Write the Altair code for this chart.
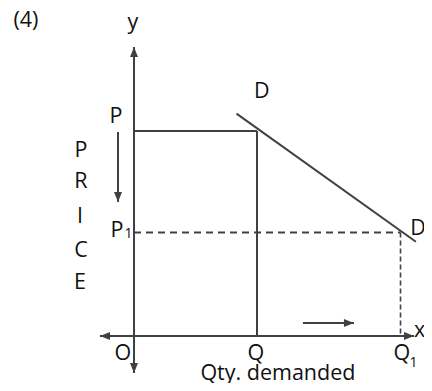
import altair as alt
import pandas as pd

# ---------------- data (chart units, origin O at 0,0) ----------------
Q, Q1 = 6.0, 13.0          # quantities demanded
P, P1 = 10.0, 5.05         # prices
demand_x = [5.0, 13.75]    # ends of demand curve DD
demand_y = [10.85, 4.6]
yaxis_ends = [-1.8, 14.1]
xaxis_ends = [-1.66, 13.66]
price_arrow_x = -0.78
price_arrow_y = [9.95, 6.54]
qty_arrow_y = 0.63
qty_arrow_x = [8.24, 10.73]

label_text = ["(4)", "y", "P", "P", "R", "I", "C", "E", "P", "D", "D", "x",
              "Q", "Q", "O", "Qty. demanded"]
label_x = [-5.27, -0.05, -0.88, -2.59, -2.59, -2.63, -2.59, -2.63, -0.83,
           6.24, 13.85, 13.93, 5.95, 13.07, -0.54, 7.02]
label_y = [15.07, 14.98, 10.39, 8.73, 7.22, 5.51, 3.85, 2.29, 4.83,
           11.61, 4.93, -0.05, -1.15, -1.15, -1.15, -2.15]
sub_text = ["1", "1"]
sub_x = [-0.27, 13.63]
sub_y = [4.78, -1.5]

# ---------------- scale geometry ----------------
UNIT = 20.5           # pixels per chart unit
W, H = 416, 375
X0_PX, Y0_PX = 126, 328   # origin position inside the plot area
xdom = [-X0_PX / UNIT, (W - X0_PX) / UNIT]
ydom = [-(H - Y0_PX) / UNIT, Y0_PX / UNIT]
xs = alt.Scale(domain=xdom, nice=False, zero=False)
ys = alt.Scale(domain=ydom, nice=False, zero=False)

INK = "#404040"

solid = pd.DataFrame([
    dict(x=xaxis_ends[0], x2=xaxis_ends[1], y=0, y2=0),
    dict(x=0, x2=0, y=yaxis_ends[0], y2=yaxis_ends[1]),
    dict(x=0, x2=Q, y=P, y2=P),
    dict(x=Q, x2=Q, y=P, y2=0),
    dict(x=demand_x[0], x2=demand_x[1], y=demand_y[0], y2=demand_y[1]),
    dict(x=price_arrow_x, x2=price_arrow_x, y=price_arrow_y[0], y2=price_arrow_y[1]),
    dict(x=qty_arrow_x[0], x2=qty_arrow_x[1], y=qty_arrow_y, y2=qty_arrow_y),
])
dash_h = pd.DataFrame([dict(x=0, x2=Q1, y=P1, y2=P1)])
dash_v = pd.DataFrame([dict(x=Q1, x2=Q1, y=P1, y2=0)])

heads = pd.DataFrame([
    dict(x=0, y=yaxis_ends[1], a=0),
    dict(x=0, y=yaxis_ends[0], a=180),
    dict(x=xaxis_ends[0], y=0, a=270),
    dict(x=xaxis_ends[1], y=0, a=90),
    dict(x=price_arrow_x, y=price_arrow_y[1], a=180),
    dict(x=qty_arrow_x[1], y=qty_arrow_y, a=90),
])

labels = pd.DataFrame(dict(t=label_text, x=label_x, y=label_y))
subs = pd.DataFrame(dict(t=sub_text, x=sub_x, y=sub_y))

def rule(df, **kw):
    return alt.Chart(df).mark_rule(color=INK, **kw).encode(
        x=alt.X("x:Q", scale=xs, axis=None),
        x2="x2:Q",
        y=alt.Y("y:Q", scale=ys, axis=None),
        y2="y2:Q",
    )

solid_l = rule(solid, strokeWidth=2)
dash_h_l = rule(dash_h, strokeWidth=2, strokeDash=[7, 5])
dash_v_l = rule(dash_v, strokeWidth=1.6, strokeDash=[5, 3])

head_l = alt.Chart(heads).mark_point(
    shape="M0,0L-1,2.5L1,2.5Z", filled=True, size=64, color=INK, opacity=1
).encode(
    x=alt.X("x:Q", scale=xs, axis=None),
    y=alt.Y("y:Q", scale=ys, axis=None),
    angle=alt.Angle("a:Q", scale=None),
)

FONT = "Open Sans"
text_l = alt.Chart(labels).mark_text(
    font=FONT, fontSize=21.5, color="#111111", align="center", baseline="alphabetic"
).encode(
    x=alt.X("x:Q", scale=xs, axis=None),
    y=alt.Y("y:Q", scale=ys, axis=None),
    text="t:N",
)
sub_l = alt.Chart(subs).mark_text(
    font=FONT, fontSize=14, color="#111111", align="center", baseline="alphabetic"
).encode(
    x=alt.X("x:Q", scale=xs, axis=None),
    y=alt.Y("y:Q", scale=ys, axis=None),
    text="t:N",
)

chart = alt.layer(dash_h_l, dash_v_l, solid_l, head_l, text_l, sub_l).properties(
    width=W, height=H, padding=0,
    autosize=alt.AutoSizeParams(type="none"),
    background="white",
).configure_view(stroke=None)

chart.save("out.html", embed_options={"renderer": "svg", "actions": False})
